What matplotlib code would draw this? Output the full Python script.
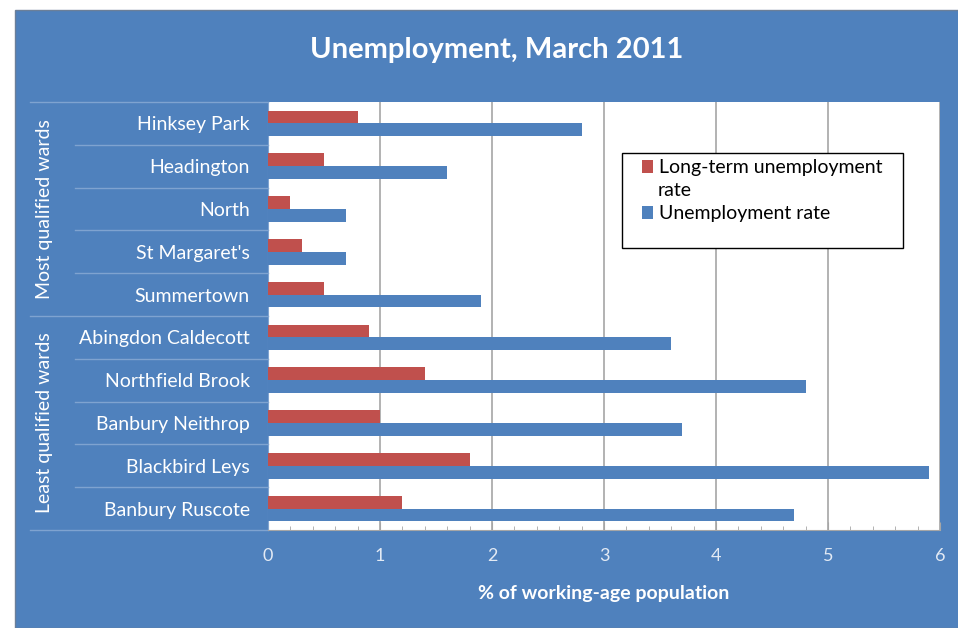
import matplotlib.pyplot as plt
import numpy as np
from matplotlib.patches import Rectangle

plt.rcParams["font.family"] = ["Lato", "DejaVu Sans"]

# Data
wards = [
    "Hinksey Park",
    "Headington",
    "North",
    "St Margaret's",
    "Summertown",
    "Abingdon Caldecott",
    "Northfield Brook",
    "Banbury Neithrop",
    "Blackbird Leys",
    "Banbury Ruscote",
]
long_term = [0.8, 0.5, 0.2, 0.3, 0.5, 0.9, 1.4, 1.0, 1.8, 1.2]
unemployment = [2.8, 1.6, 0.7, 0.7, 1.9, 3.6, 4.8, 3.7, 5.9, 4.7]
groups = ["Most qualified wards", "Least qualified wards"]
group_sizes = [5, 5]

bg = "#4F81BD"
red = "#C0504D"
sep = "#7FA3D0"

fig = plt.figure(figsize=(9.58, 6.28), dpi=100, facecolor="white")
# blue chart background (white margin top/left as in the screenshot)
fig.patches.append(Rectangle((15 / 958, 0), 1, 1 - 10 / 628, transform=fig.transFigure,
                             facecolor=bg, edgecolor="#6B7F99", lw=1, zorder=-1))

ax = fig.add_axes([268 / 958, 1 - 530 / 628, 672 / 958, 428 / 628])
ax.set_facecolor("white")

y = np.arange(len(wards))
h = 0.3
ax.barh(y - h / 2, long_term, h, color=red, label="Long-term unemployment", zorder=3)
ax.barh(y + h / 2, unemployment, h, color=bg, label="Unemployment rate", zorder=3)

ax.set_xlim(0, 6)
ax.set_ylim(len(wards) - 0.5, -0.5)
ax.set_xticks(range(7))
ax.set_xticks(np.arange(0, 6.01, 0.2), minor=True)
ax.grid(axis="x", color="#A6A6A6", lw=1.2, zorder=1)
ax.tick_params(axis="x", which="major", direction="in", length=6, color="#A6A6A6",
               labelcolor="#E3EAF4", labelsize=13, pad=13)
ax.tick_params(axis="x", which="minor", direction="in", length=3, color="#A6A6A6")
ax.set_yticks(y)
ax.set_yticklabels(wards)
ax.tick_params(axis="y", length=0, labelcolor="white", labelsize=14, pad=13)
for s in ["top", "right"]:
    ax.spines[s].set_visible(False)
ax.spines["bottom"].set_color("#A6A6A6")
ax.spines["left"].set_color(sep)

ax.set_xlabel("% of working-age population", color="white", fontsize=14,
              fontweight="bold", labelpad=15)

# separator lines in the category label area
tr = ax.get_yaxis_transform()
edges = np.arange(len(wards) + 1) - 0.5
bounds = np.cumsum([0] + group_sizes)
for e in edges:
    i = int(e + 0.5)
    x0 = -0.354 if i in bounds else -0.287
    ax.plot([x0, 0], [e, e], transform=tr, color=sep, lw=1, clip_on=False)

for g, a, b in zip(groups, bounds[:-1], bounds[1:]):
    ax.text(-0.332, (a + b - 1) / 2, g, transform=tr, rotation=90, color="white",
            fontsize=14, ha="center", va="center")

# legend box (label of first entry wraps onto a second line, as in Excel)
ax.add_patch(Rectangle((0.527, 0.659), 0.418, 0.222, transform=ax.transAxes,
                       facecolor="white", edgecolor="black", lw=1, zorder=5))
leg = ax.legend(loc="upper left", bbox_to_anchor=(0.53, 0.907), frameon=False,
                fontsize=14, handlelength=0.6, handleheight=0.6, handletextpad=0.3,
                labelspacing=1.5)
leg.set_zorder(6)
ax.text(0.580, 0.794, "rate", transform=ax.transAxes, fontsize=14, ha="left",
        va="center", zorder=7)

fig.text(497 / 958, 1 - 50 / 628, "Unemployment, March 2011", color="white",
         fontsize=21, fontweight="bold", ha="center", va="center")

fig.savefig("out.png", dpi=100, facecolor=fig.get_facecolor())
